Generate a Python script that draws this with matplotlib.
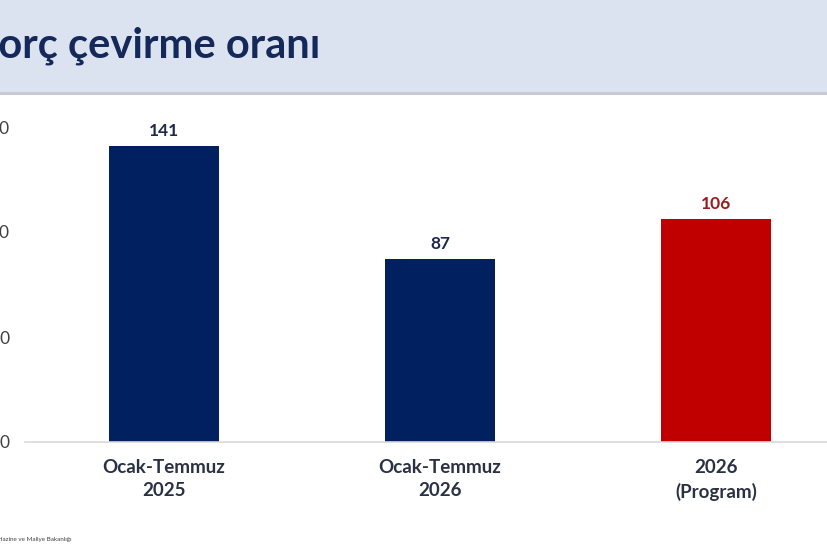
import matplotlib.pyplot as plt
from matplotlib.patches import Rectangle

# veriler
categories = ["Ocak-Temmuz\n2025", "Ocak-Temmuz\n2026", "2026\n(Program)"]
values = [141, 87, 106]
bar_colors = ["#002060", "#002060", "#C00000"]
label_colors = ["#1f2a4a", "#1f2a4a", "#9b1c1c"]
y_ticks = [0, 50, 100, 150]

W, H = 828, 552
fig = plt.figure(figsize=(W / 100, H / 100), dpi=100)
plt.rcParams["font.family"] = ["Lato", "DejaVu Sans"]

# başlık bandı
fig.patches.append(Rectangle((0, 1 - 92 / H), 1, 92 / H, transform=fig.transFigure,
                             facecolor="#dae3ef", edgecolor="none", zorder=0))
fig.patches.append(Rectangle((0, 1 - 95 / H), 1, 3 / H, transform=fig.transFigure,
                             facecolor="#c5ccd6", edgecolor="none", zorder=0))
fig.text(320 / W, 1 - 46 / H, "Borç çevirme oranı", ha="right", va="center",
         fontsize=30, fontweight="bold", color="#14285a")

ax = fig.add_axes([25 / W, (H - 442) / H, 1 - 25 / W, 342 / H])
x = list(range(len(categories)))
bars = ax.bar(x, values, width=0.4, color=bar_colors)

for xi, v, c in zip(x, values, label_colors):
    ax.text(xi, v + 3.5, str(v), ha="center", va="bottom", fontsize=12.5,
            fontweight="bold", color=c)

ax.set_xlim(-0.504, 2.406)
ax.set_ylim(0, 342 / 2.1)
ax.set_yticks(y_ticks)
ax.set_xticks(x)
ax.set_xticklabels(categories, fontsize=13.5, fontweight="bold", color="#2a3142",
                   linespacing=1.45)
ax.tick_params(axis="y", length=0, pad=11, labelsize=12.5, labelcolor="#404040")
ax.tick_params(axis="x", length=0, pad=12)
for s in ["top", "right", "left"]:
    ax.spines[s].set_visible(False)
ax.spines["bottom"].set_color("#d9d9d9")
ax.spines["bottom"].set_linewidth(1.2)

fig.text(72 / W, 1 - 540 / H, "Kaynak: Hazine ve Maliye Bakanlığı", ha="right",
         va="center", fontsize=4.5, color="#404040")

fig.savefig("out.png", dpi=100)
